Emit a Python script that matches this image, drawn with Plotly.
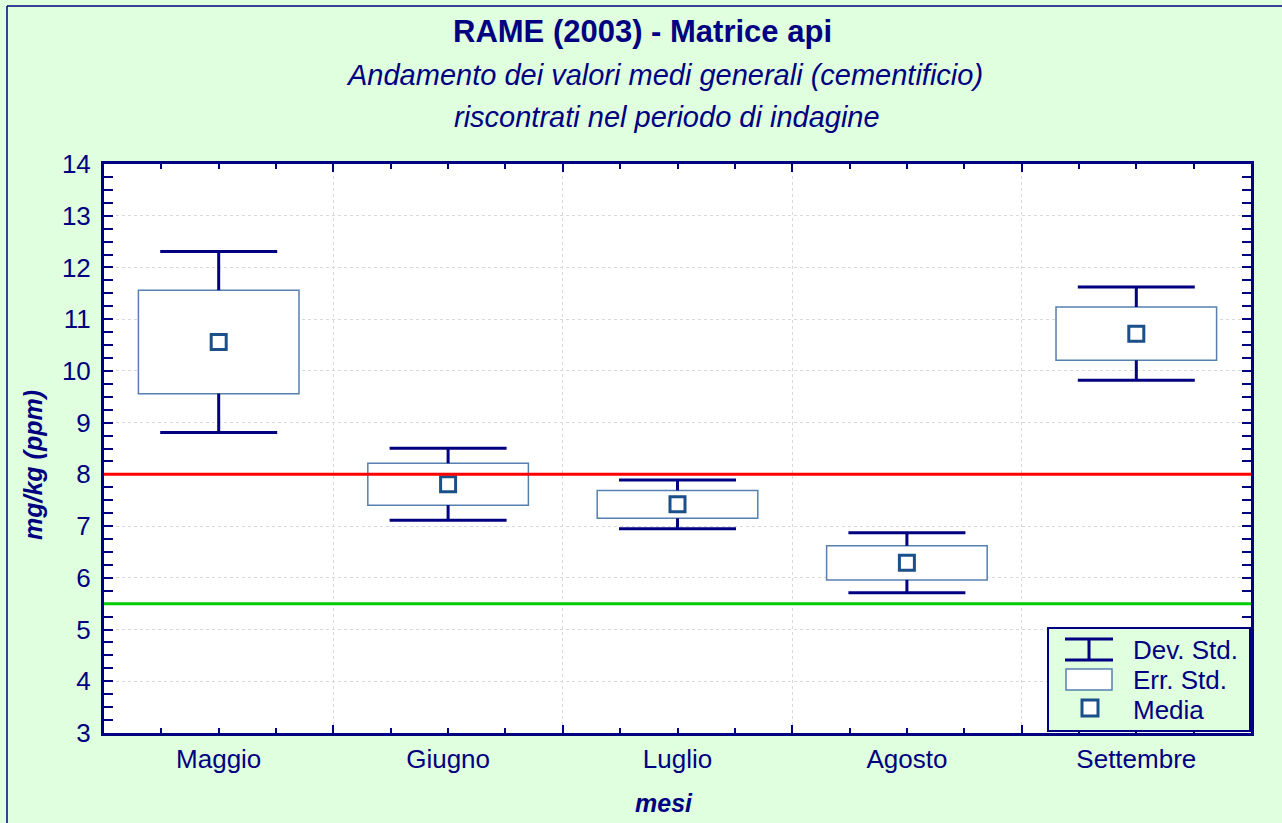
import plotly.graph_objects as go

# ---- data ----
months = ["Maggio", "Giugno", "Luglio", "Agosto", "Settembre"]
media = [10.56, 7.81, 7.42, 6.29, 10.72]
err_std = [1.00, 0.405, 0.27, 0.33, 0.515]
dev_std = [1.75, 0.695, 0.47, 0.58, 0.90]
limit_high = 8.0
limit_low = 5.5

NAVY = "#000080"
BOX_LINE = "#5580b0"
MEAN_LINE = "#1a4f8a"
BG = "#dfffdf"
GRID = "#d9d9d9"

xpos = list(range(len(months)))
BOX_W = 0.7
CAP_HALF = 0.255

fig = go.Figure()

# Err. Std. boxes
fig.add_trace(go.Bar(
    x=xpos, y=[2 * s for s in err_std], base=[m - s for m, s in zip(media, err_std)],
    width=BOX_W, marker=dict(color="white", line=dict(color=BOX_LINE, width=1.5)),
    showlegend=False, hoverinfo="skip"))

# Dev. Std. whiskers: stems from box edges to caps, plus caps
wx, wy = [], []
for i, m, s, d in zip(xpos, media, err_std, dev_std):
    for sign in (1, -1):
        edge = m + sign * s
        tip = m + sign * d
        wx += [i, i, None, i - CAP_HALF, i + CAP_HALF, None]
        wy += [edge, tip, None, tip, tip, None]
fig.add_trace(go.Scatter(x=wx, y=wy, mode="lines", line=dict(color=NAVY, width=3),
                         showlegend=False, hoverinfo="skip"))

# Media markers
fig.add_trace(go.Scatter(
    x=xpos, y=media, mode="markers",
    marker=dict(symbol="square", size=15, color="white",
                line=dict(color=MEAN_LINE, width=3)),
    showlegend=False))

# limit lines
fig.add_shape(type="line", xref="paper", x0=0, x1=1, y0=limit_high, y1=limit_high,
              line=dict(color="#ff0000", width=3), layer="above")
fig.add_shape(type="line", xref="paper", x0=0, x1=1, y0=limit_low, y1=limit_low,
              line=dict(color="#00cc00", width=3), layer="above")

# ---- layout geometry ----
W, H = 1282, 823
ML, MR, MT, MB = 104, 31, 164, 90
PW = W - ML - MR
PH = H - MT - MB


def px_x(px):
    return (px - ML) / PW


def px_y(py):
    return (H - MB - py) / PH


boundaries = [i - 0.5 for i in range(len(months) + 1)]

fig.update_layout(
    width=W, height=H,
    margin=dict(l=ML, r=MR, t=MT, b=MB),
    paper_bgcolor=BG, plot_bgcolor="white",
    font=dict(family="Liberation Sans, Arial, sans-serif", color=NAVY),
    showlegend=False,
    xaxis=dict(
        range=[-0.5, len(months) - 0.5], tickmode="array", tickvals=boundaries,
        showticklabels=False, ticks="inside", ticklen=8, tickwidth=2, tickcolor=NAVY,
        showgrid=True, gridcolor=GRID, griddash="dot", gridwidth=1,
        showline=True, linecolor=NAVY, linewidth=3, mirror="allticks",
        zeroline=False,
        minor=dict(tickmode="linear", tick0=-0.5, dtick=0.25, ticks="inside",
                   ticklen=5, tickwidth=2, tickcolor=NAVY, showgrid=False),
    ),
    xaxis2=dict(
        overlaying="x", anchor="y", side="bottom",
        range=[-0.5, len(months) - 0.5], tickmode="array", tickvals=xpos,
        ticktext=months, ticks="", showgrid=False, showline=False, zeroline=False,
        tickfont=dict(size=26, color=NAVY), ticklabelstandoff=8,
    ),
    yaxis=dict(
        range=[3, 14], tickmode="linear", tick0=3, dtick=1,
        ticks="inside", ticklen=9, tickwidth=2, tickcolor=NAVY,
        tickfont=dict(size=26, color=NAVY), ticklabelstandoff=5,
        showgrid=True, gridcolor=GRID, griddash="dot", gridwidth=1,
        showline=True, linecolor=NAVY, linewidth=3, mirror="allticks",
        zeroline=False,
        minor=dict(tickmode="linear", tick0=3, dtick=0.25, ticks="inside",
                   ticklen=5, tickwidth=2, tickcolor=NAVY, showgrid=False),
    ),
)

# invisible trace on xaxis2 so the label axis renders
fig.add_trace(go.Scatter(x=xpos, y=media, xaxis="x2", mode="markers",
                         marker=dict(opacity=0), showlegend=False, hoverinfo="skip"))

annotations = [
    dict(text="<b>RAME (2003) - Matrice api</b>", x=px_x(642), y=px_y(32), size=31),
    dict(text="<i>Andamento dei valori medi generali (cementificio)</i>", x=px_x(664), y=px_y(75), size=29),
    dict(text="<i>riscontrati nel periodo di indagine</i>", x=px_x(667), y=px_y(117), size=29),
    dict(text="<b><i>mesi</i></b>", x=px_x(664), y=px_y(803), size=25),
]
for a in annotations:
    fig.add_annotation(text=a["text"], x=a["x"], y=a["y"], xref="paper", yref="paper",
                       xanchor="center", yanchor="middle", showarrow=False,
                       font=dict(size=a["size"], color=NAVY))
fig.add_annotation(text="<b><i>mg/kg (ppm)</i></b>", x=px_x(33), y=px_y(465),
                   xref="paper", yref="paper", textangle=-90, showarrow=False,
                   xanchor="center", yanchor="middle", font=dict(size=25, color=NAVY))

# figure border (left and top)
fig.add_shape(type="line", xref="paper", yref="paper", x0=px_x(7), x1=px_x(7),
              y0=px_y(823), y1=px_y(6), line=dict(color=NAVY, width=1.5))
fig.add_shape(type="line", xref="paper", yref="paper", x0=px_x(7), x1=px_x(1282),
              y0=px_y(6), y1=px_y(6), line=dict(color=NAVY, width=1.5))

# ---- legend (drawn manually) ----
fig.add_shape(type="rect", xref="paper", yref="paper",
              x0=px_x(1048), x1=px_x(1250), y0=px_y(731), y1=px_y(628),
              fillcolor=BG, line=dict(color=NAVY, width=2), layer="above")
fig.add_shape(type="line", xref="paper", yref="paper", x0=px_x(1065), x1=px_x(1113),
              y0=px_y(639), y1=px_y(639), line=dict(color=NAVY, width=3), layer="above")
fig.add_shape(type="line", xref="paper", yref="paper", x0=px_x(1065), x1=px_x(1113),
              y0=px_y(660), y1=px_y(660), line=dict(color=NAVY, width=3), layer="above")
fig.add_shape(type="line", xref="paper", yref="paper", x0=px_x(1089), x1=px_x(1089),
              y0=px_y(639), y1=px_y(660), line=dict(color=NAVY, width=3), layer="above")
fig.add_shape(type="rect", xref="paper", yref="paper", x0=px_x(1066), x1=px_x(1112),
              y0=px_y(690), y1=px_y(669), fillcolor="white",
              line=dict(color=BOX_LINE, width=1.5), layer="above")
fig.add_shape(type="rect", xref="paper", yref="paper", x0=px_x(1082), x1=px_x(1098),
              y0=px_y(716), y1=px_y(700), fillcolor="white",
              line=dict(color=MEAN_LINE, width=3), layer="above")
for label, py in [("Dev. Std.", 650), ("Err. Std.", 680), ("Media", 710)]:
    fig.add_annotation(text=label, x=px_x(1131), y=px_y(py), xref="paper", yref="paper",
                       xanchor="left", yanchor="middle", showarrow=False,
                       font=dict(size=26, color=NAVY))

fig.write_html("out.html", config={"displayModeBar": False},
               post_script="document.body.style.margin='0px';")
